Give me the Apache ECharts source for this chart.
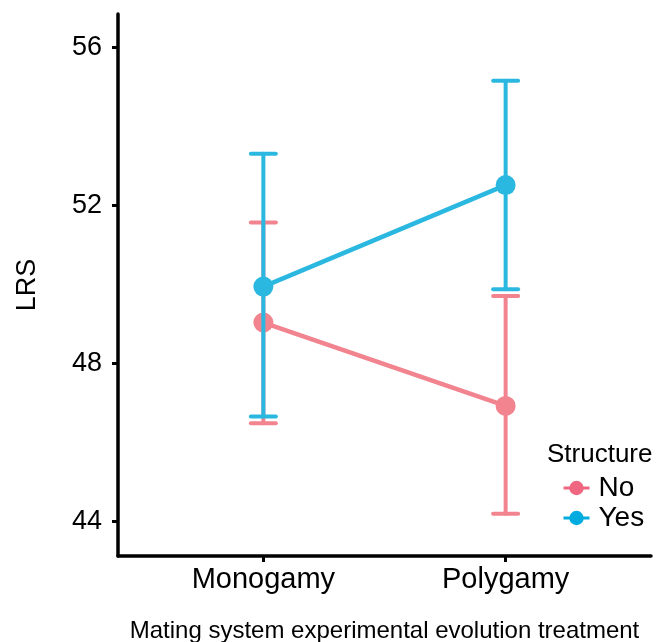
<!DOCTYPE html>
<html>
<head>
<meta charset="utf-8">
<script src="https://cdn.jsdelivr.net/npm/echarts@6/dist/echarts.min.js"></script>
<style>html,body{margin:0;padding:0;background:#fff}#c{width:671px;height:642px}</style>
</head>
<body>
<div id="c"></div>
<script>
const categories = ['Monogamy', 'Polygamy'];
const groups = ['No', 'Yes'];
const meanNo = [49.04, 46.93];
const lowNo = [46.49, 44.20];
const highNo = [51.57, 49.71];
const meanYes = [49.95, 52.52];
const lowYes = [46.66, 49.88];
const highYes = [53.31, 55.16];
const yTicks = [44, 48, 52, 56];

const FONT = '"Liberation Sans", Arial, Helvetica, sans-serif';
const plotColors = {No: '#F2848F', Yes: '#2BB8E0'};
const legendColors = {No: '#EF6680', Yes: '#00ABDF'};

const xPos = categories.map((c, i) => i + 1);

function lineSeries(name, means, z) {
  return {
    name: name, type: 'line', z: z,
    data: xPos.map((x, i) => [x, means[i]]),
    symbol: 'circle', symbolSize: 20,
    itemStyle: {color: plotColors[name]},
    lineStyle: {color: plotColors[name], width: 4.5},
    emphasis: {disabled: true},
    animation: false
  };
}
function errSeries(name, lows, highs, z) {
  return {
    name: name, type: 'custom', z: z,
    data: xPos.map((x, i) => [x, lows[i], highs[i]]),
    renderItem: function (params, api) {
      const x = api.value(0);
      const lo = api.coord([x, api.value(1)]);
      const hi = api.coord([x, api.value(2)]);
      const hw = 12.5;
      const st = {stroke: plotColors[name], lineWidth: 4, lineCap: 'round'};
      return {type: 'group', children: [
        {type: 'line', shape: {x1: lo[0], y1: lo[1], x2: hi[0], y2: hi[1]}, style: st},
        {type: 'line', shape: {x1: lo[0] - hw, y1: lo[1], x2: lo[0] + hw, y2: lo[1]}, style: st},
        {type: 'line', shape: {x1: hi[0] - hw, y1: hi[1], x2: hi[0] + hw, y2: hi[1]}, style: st}
      ]};
    },
    animation: false
  };
}

const chart = echarts.init(document.getElementById('c'));
chart.setOption({
  backgroundColor: '#fff',
  animation: false,
  grid: {left: 118, right: 20, top: 14, bottom: 86, outerBoundsMode: 'none', containLabel: false},
  xAxis: {
    type: 'value', min: 0.4, max: 2.6,
    name: 'Mating system experimental evolution treatment',
    nameLocation: 'middle', nameGap: 63,
    nameTextStyle: {fontFamily: FONT, fontSize: 24, color: '#000'},
    axisLine: {show: true, lineStyle: {color: '#000', width: 3.5}},
    axisTick: {show: true, customValues: xPos, length: 6, lineStyle: {color: '#000', width: 3}},
    axisLabel: {customValues: xPos, formatter: v => categories[Math.round(v) - 1] || '',
      fontFamily: FONT, fontSize: 29, color: '#000', margin: 9},
    splitLine: {show: false}
  },
  yAxis: {
    type: 'value', min: 43.13, max: 56.85,
    name: 'LRS', nameLocation: 'middle', nameGap: 77,
    nameTextStyle: {fontFamily: FONT, fontSize: 27, color: '#000'},
    axisLine: {show: true, lineStyle: {color: '#000', width: 3.5}},
    axisTick: {show: true, customValues: yTicks, length: 6, lineStyle: {color: '#000', width: 3}},
    axisLabel: {customValues: yTicks, fontFamily: FONT, fontSize: 27, color: '#000', margin: 16},
    splitLine: {show: false}
  },
  legend: {
    data: groups.map(g => ({name: g, itemStyle: {color: legendColors[g]}, lineStyle: {color: legendColors[g], width: 3}})),
    orient: 'vertical', left: 557, top: 469,
    itemWidth: 26, itemHeight: 18, itemGap: 2,
    textStyle: {fontFamily: FONT, fontSize: 28, color: '#000', padding: [0, 0, 0, 4]},
    selectedMode: false
  },
  graphic: [{
    type: 'text', left: 547, top: 442,
    style: {text: 'Structure', fontFamily: FONT, fontSize: 26, fill: '#000'}
  }],
  series: [
    lineSeries('No', meanNo, 2),
    errSeries('No', lowNo, highNo, 3),
    lineSeries('Yes', meanYes, 4),
    errSeries('Yes', lowYes, highYes, 5)
  ]
});
</script>
</body>
</html>
